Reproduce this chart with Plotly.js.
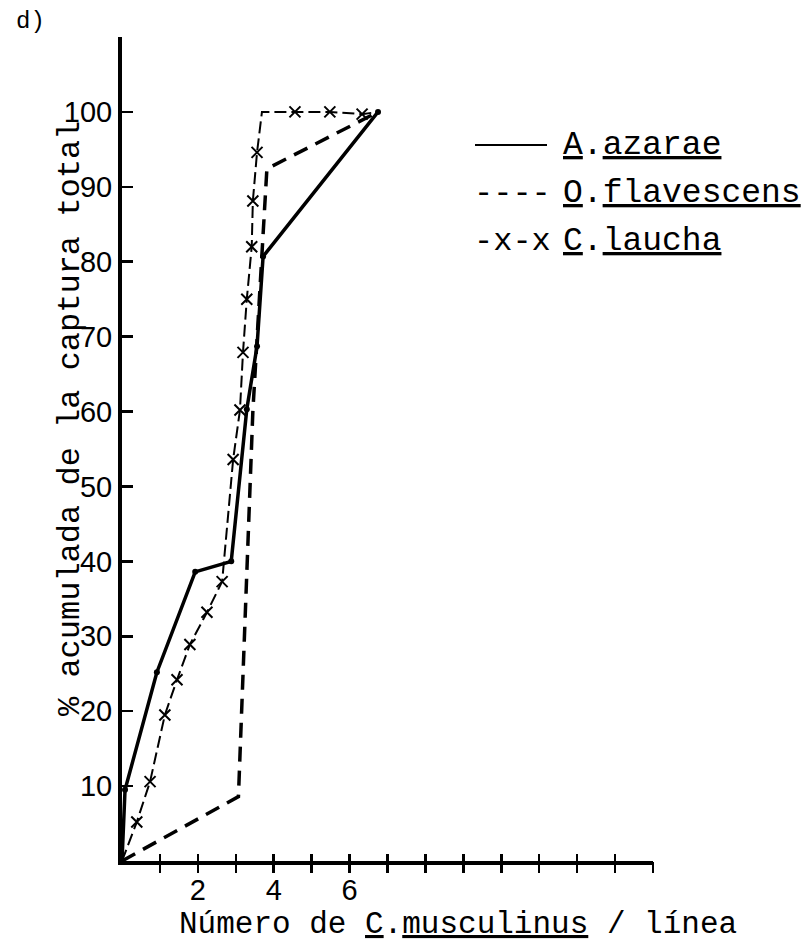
<!DOCTYPE html>
<html>
<head>
<meta charset="utf-8">
<script src="https://cdn.plot.ly/plotly-3.0.1.min.js"></script>
<style>html,body{margin:0;padding:0;background:#fff;}#chart{width:807px;height:952px;}</style>
</head>
<body>
<div id="chart"></div>
<script>
// ---- Data ----
const seriesNames = ["A.azarae", "O.flavescens", "C.laucha"];

const azaraeX = [0, 0.08, 0.92, 1.93, 2.88, 3.29, 3.56, 3.72, 6.75];
const azaraeY = [0, 9.5, 25.2, 38.6, 40.0, 60.3, 68.7, 80.7, 100];

const flavescensX = [0, 3.07, 3.45, 3.82, 6.75];
const flavescensY = [0, 8.6, 60.0, 92.4, 100];

const lauchaX = [0, 0.39, 0.74, 1.13, 1.45, 1.79, 2.24, 2.64, 2.93, 3.11, 3.19, 3.29, 3.42, 3.45, 3.56, 3.69, 4.56, 5.48, 6.33, 6.75];
const lauchaY = [0, 5.2, 10.6, 19.5, 24.2, 28.9, 33.2, 37.3, 53.6, 60.2, 67.9, 75.0, 82.0, 88.1, 94.6, 100, 100, 100, 99.7, 100];
const lauchaMarked = [false, true, true, true, true, true, true, true, true, true, true, true, true, true, true, false, true, true, true, false];

const xTickVals = [1,2,3,4,5,6,7,8,9,10,11,12,13,14];
const xTickText = ["","2","","4","","6","","","","","","","",""];
const yTickVals = [10,20,30,40,50,60,70,80,90,100];
const yTickText = ["10","20","30","40","50","60","70","80","90","100"];

const xTitle = "Número de <u>C</u>.<u>musculinus</u> / línea";
const yTitle = "% acumulada de la captura total";
const panelLabel = "d)";

// ---- Layout helpers ----
const W = 807, H = 952, L = 122, R = 653, T = 37, B = 861;
const px = v => (v - L) / (R - L);
const py = v => (B - v) / (B - T);
const MONO = "Liberation Mono, Courier New, monospace";
const SANS = "Liberation Sans, Arial, sans-serif";

const lauchaMX = lauchaX.filter((v, i) => lauchaMarked[i]);
const lauchaMY = lauchaY.filter((v, i) => lauchaMarked[i]);

const traces = [
  {x: azaraeX, y: azaraeY, name: seriesNames[0], type: "scatter", mode: "lines+markers",
   line: {color: "#000", width: 3.5}, marker: {color: "#000", size: 6}, showlegend: false},
  {x: flavescensX, y: flavescensY, name: seriesNames[1], type: "scatter", mode: "lines",
   line: {color: "#000", width: 3.5, dash: "15px,9px"}, showlegend: false},
  {x: lauchaX, y: lauchaY, name: seriesNames[2], type: "scatter", mode: "lines",
   line: {color: "#000", width: 2, dash: "12px,5px"}, showlegend: false},
  {x: lauchaMX, y: lauchaMY, name: seriesNames[2] + " (marcas)", type: "scatter", mode: "markers",
   marker: {symbol: "x-thin", size: 11, color: "#000", line: {color: "#000", width: 2}}, showlegend: false}
];

const legendRows = [
  {y: 145, sample: null, label: "<u>A</u>.<u>azarae</u>"},
  {y: 193, sample: "----", label: "<u>O</u>.<u>flavescens</u>"},
  {y: 241, sample: "-x-x", label: "<u>C</u>.<u>laucha</u>"}
];

const annotations = [
  {xref: "paper", yref: "paper", x: px(14), y: py(22), xanchor: "left", yanchor: "middle",
   text: panelLabel, showarrow: false, font: {family: MONO, size: 24, color: "#000"}},
  {xref: "paper", yref: "paper", x: px(70), y: py(419), xanchor: "center", yanchor: "middle",
   text: yTitle, textangle: -90, showarrow: false, font: {family: MONO, size: 32, color: "#000"}},
  {xref: "paper", yref: "paper", x: px(458), y: py(924), xanchor: "center", yanchor: "middle",
   text: xTitle, showarrow: false, font: {family: MONO, size: 31, color: "#000"}}
];
const shapes = [];
legendRows.forEach(r => {
  if (r.sample === null) {
    shapes.push({type: "line", xref: "paper", yref: "paper", x0: px(475), x1: px(547), y0: py(r.y), y1: py(r.y),
                 line: {color: "#000", width: 2}});
  } else {
    annotations.push({xref: "paper", yref: "paper", x: px(472), y: py(r.y), xanchor: "left", yanchor: "middle",
      text: r.sample, showarrow: false, font: {family: MONO, size: 32, color: "#000"}});
  }
  annotations.push({xref: "paper", yref: "paper", x: px(561), y: py(r.y), xanchor: "left", yanchor: "middle",
    text: r.label, showarrow: false, font: {family: MONO, size: 33, color: "#000"}});
});

const layout = {
  width: W, height: H,
  margin: {l: L, r: W - R, t: T, b: H - B, pad: 0},
  paper_bgcolor: "#fff", plot_bgcolor: "#fff",
  showlegend: false,
  xaxis: {range: [0, 14], showline: true, linewidth: 4, linecolor: "#000", mirror: false,
          ticks: "inside", ticklen: 7, tickwidth: 2.5, tickcolor: "#000",
          tickvals: xTickVals, ticktext: xTickText, showgrid: false, zeroline: false,
          tickfont: {family: SANS, size: 29, color: "#000"}, fixedrange: true},
  xaxis2: {range: [0, 14], overlaying: "x", anchor: "y", side: "bottom", showline: false,
           ticks: "outside", ticklen: 11, tickwidth: 2.5, tickcolor: "#000",
           tickvals: xTickVals, showticklabels: false, showgrid: false, zeroline: false, fixedrange: true},
  yaxis: {range: [0, 110], showline: true, linewidth: 4, linecolor: "#000",
          ticks: "inside", ticklen: 11, tickwidth: 2.5, tickcolor: "#000",
          tickvals: yTickVals, ticktext: yTickText, showgrid: false, zeroline: false,
          tickfont: {family: SANS, size: 29, color: "#000"}, fixedrange: true},
  annotations: annotations,
  shapes: shapes
};

// empty trace that activates the overlay axis carrying the outer half of the x ticks
traces.push({x: [], y: [], xaxis: "x2", yaxis: "y", type: "scatter", mode: "lines", showlegend: false, hoverinfo: "skip"});

Plotly.newPlot("chart", traces, layout, {staticPlot: true, displayModeBar: false});
</script>
</body>
</html>
